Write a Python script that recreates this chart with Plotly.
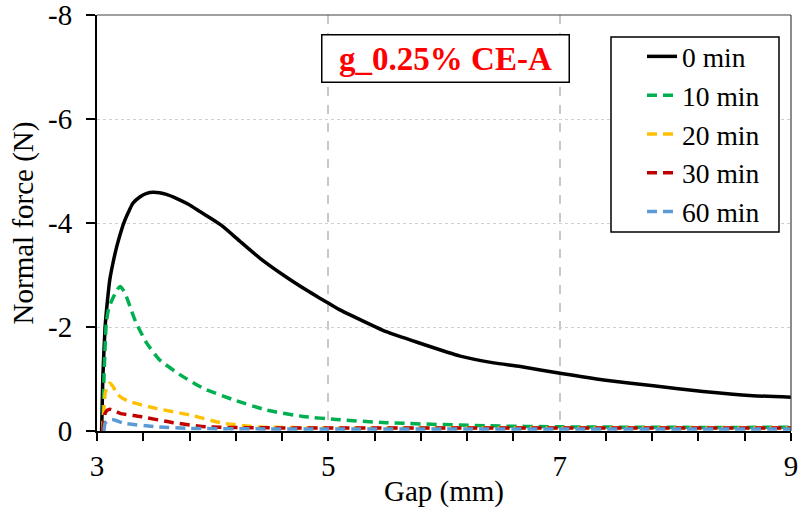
import plotly.graph_objects as go

# Normal force vs. gap for g_0.25% CE-A at different resting times
x_0min = [3.04, 3.05, 3.07, 3.09, 3.11, 3.14, 3.17, 3.20, 3.23, 3.27, 3.31, 3.37, 3.43, 3.49, 3.54,
          3.60, 3.69, 3.79, 3.89, 3.99, 4.09, 4.24, 4.41, 4.61, 4.81, 4.93, 5.10, 5.22, 5.50, 5.79,
          6.14, 6.43, 6.66, 7.03, 7.38, 7.81, 8.24, 8.67, 9.0]
y_0min = [0, -1.0, -2.0, -2.5, -2.9, -3.25, -3.54, -3.78, -3.99, -4.2, -4.38, -4.5, -4.57, -4.59, -4.58,
          -4.55, -4.47, -4.36, -4.22, -4.08, -3.93, -3.64, -3.32, -3.0, -2.71, -2.55, -2.33, -2.2, -1.91, -1.69,
          -1.44, -1.31, -1.24, -1.10, -0.98, -0.87, -0.76, -0.68, -0.65]

x_10min = [3.05, 3.06, 3.08, 3.10, 3.13, 3.17, 3.20, 3.23, 3.26, 3.30, 3.34, 3.43, 3.54, 3.72, 3.92,
           4.18, 4.47, 4.78, 5.07, 5.50, 6.37, 7.03, 8.0, 9.0]
y_10min = [0, -1.0, -2.07, -2.35, -2.52, -2.7, -2.78, -2.7, -2.55, -2.3, -2.07, -1.69, -1.37, -1.08, -0.82,
           -0.60, -0.40, -0.28, -0.22, -0.16, -0.10, -0.08, -0.07, -0.07]

x_20min = [3.05, 3.06, 3.07, 3.09, 3.11, 3.14, 3.17, 3.22, 3.29, 3.52, 3.80, 4.09, 4.38, 5.0, 6.0, 7.0, 8.0, 9.0]
y_20min = [0, -0.4, -0.72, -0.87, -0.92, -0.85, -0.72, -0.63, -0.56, -0.43, -0.31, -0.15, -0.08, -0.06,
           -0.06, -0.06, -0.06, -0.06]

x_30min = [3.05, 3.06, 3.07, 3.09, 3.11, 3.15, 3.20, 3.37, 3.66, 3.95, 4.5, 5.0, 6.0, 7.0, 8.0, 9.0]
y_30min = [0, -0.2, -0.34, -0.40, -0.42, -0.39, -0.34, -0.28, -0.16, -0.08, -0.06, -0.06, -0.06, -0.06,
           -0.06, -0.06]

x_60min = [3.06, 3.07, 3.09, 3.13, 3.18, 3.23, 3.52, 3.80, 4.5, 5.0, 6.0, 7.0, 8.0, 9.0]
y_60min = [0, -0.15, -0.19, -0.22, -0.19, -0.15, -0.08, -0.05, -0.04, -0.04, -0.04, -0.04, -0.04, -0.04]

series_names = ["0 min", "10 min", "20 min", "30 min", "60 min"]
series_x = [x_0min, x_10min, x_20min, x_30min, x_60min]
series_y = [y_0min, y_10min, y_20min, y_30min, y_60min]
colors = ["#000000", "#00B050", "#FFC000", "#C00000", "#5B9BD5"]
dashes = ["solid", "10px,6px", "10px,6px", "10px,6px", "10px,6px"]

y_tickvals = [0, -2, -4, -6, -8]
y_ticktext = ["0", "-2", "-4", "-6", "-8"]

FONT = "Times New Roman, Liberation Serif, serif"

W, H = 804, 508
L, R, T, B = 97, 13, 15, 77
PW, PH = W - L - R, H - T - B


def px_x(p):
    return (p - L) / PW


def px_y(p):
    return (H - B - p) / PH


fig = go.Figure()
for i, (name, xs, ys) in enumerate(zip(series_names, series_x, series_y)):
    fig.add_trace(go.Scatter(
        x=xs, y=ys, name=name, mode="lines",
        line=dict(color=colors[i], width=3.5, dash=dashes[i], shape="spline", smoothing=0.5),
    ))

fig.update_layout(
    width=W, height=H,
    margin=dict(l=L, r=R, t=T, b=B, autoexpand=False),
    plot_bgcolor="white", paper_bgcolor="white",
    font=dict(family=FONT, size=29, color="black"),
    showlegend=True,
    legend=dict(
        x=px_x(642), y=px_y(32), xanchor="left", yanchor="top",
        bgcolor="rgba(0,0,0,0)", borderwidth=0,
        font=dict(family=FONT, size=27.5, color="black"),
        traceorder="normal", tracegroupgap=0,
    ),
    xaxis=dict(
        range=[3, 9], dtick=2, tick0=3, automargin=False,
        showline=True, linecolor="black", linewidth=2,
        ticks="outside", ticklen=8, tickwidth=1.5, tickcolor="black",
        showgrid=True, gridcolor="#c8c8c8", gridwidth=1.5, griddash="dash",
        minor=dict(dtick=0.4, tick0=3, ticks="outside", ticklen=8, tickwidth=1.5,
                   tickcolor="black", showgrid=False),
        zeroline=False,
        title=dict(text="Gap (mm)", font=dict(family=FONT, size=29), standoff=0),
        tickfont=dict(family=FONT, size=29),
        ticklabeloverflow="allow",
    ),
    yaxis=dict(
        range=[0, -8], tickmode="array", tickvals=y_tickvals, ticktext=y_ticktext,
        automargin=False,
        showline=True, linecolor="black", linewidth=2,
        ticks="outside", ticklen=9, tickwidth=1.5, tickcolor="black",
        showgrid=True, gridcolor="#d0d0d0", gridwidth=1, griddash="dot",
        zeroline=False,
        title=dict(text="Normal force (N)", font=dict(family=FONT, size=29), standoff=6),
        tickfont=dict(family=FONT, size=29),
        ticklabelstandoff=8,
        ticklabeloverflow="allow",
    ),
    shapes=[
        dict(type="line", xref="paper", yref="paper", x0=0, x1=1, y0=1, y1=1,
             line=dict(color="#404040", width=1.2)),
        dict(type="line", xref="paper", yref="paper", x0=1, x1=1, y0=0, y1=1,
             line=dict(color="#404040", width=1.2)),
        # legend frame
        dict(type="rect", xref="paper", yref="paper", layer="above",
             x0=px_x(611), x1=px_x(779), y0=px_y(232), y1=px_y(37),
             fillcolor="white", line=dict(color="black", width=1.5)),
    ],
    annotations=[
        dict(text="<b>g_0.25% CE-A</b>", xref="paper", yref="paper", x=px_x(445.5), y=px_y(59),
             xanchor="center", yanchor="middle", showarrow=False,
             font=dict(family=FONT, size=33, color="#FF0000"),
             bgcolor="white", bordercolor="black", borderwidth=1.5,
             width=240, height=40, borderpad=3),
    ],
)

fig.write_html("out.html")
